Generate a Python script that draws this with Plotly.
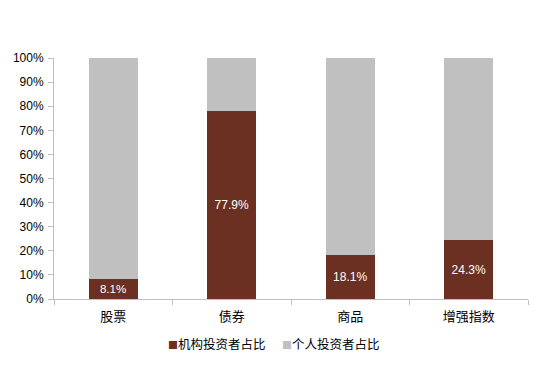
import plotly.graph_objects as go

categories = ["股票", "债券", "商品", "增强指数"]
institutional = [8.1, 77.9, 18.1, 24.3]
individual = [91.9, 22.1, 81.9, 75.7]
series_names = ["机构投资者占比", "个人投资者占比"]
series_colors = ["#6B3022", "#C0C0C0"]
tick_vals = [0, 10, 20, 30, 40, 50, 60, 70, 80, 90, 100]
tick_text = [f"{v}%" for v in tick_vals]

font_family = "Liberation Sans, Arial, Noto Sans CJK SC, sans-serif"
cjk_family = "Noto Sans CJK SC, Liberation Sans, sans-serif"

fig = go.Figure()
fig.add_trace(go.Bar(
    x=categories, y=institutional, name=series_names[0],
    marker=dict(color=series_colors[0], line=dict(width=0)),
    text=[f"{v}%" for v in institutional], textposition="inside",
    insidetextanchor="middle",
    textfont=dict(color="white", size=12, family=font_family),
))
fig.add_trace(go.Bar(
    x=categories, y=individual, name=series_names[1],
    marker=dict(color=series_colors[1], line=dict(width=0)),
    hoverinfo="skip",
))

legend_x = [0.237, 0.477]
for name, color, lx in zip(series_names, series_colors, legend_x):
    fig.add_annotation(
        xref="paper", yref="paper", x=lx, y=-0.183,
        xanchor="left", yanchor="middle", showarrow=False,
        text=f"<span style='color:{color};font-size:10px'>■</span>{name}",
        font=dict(family=cjk_family, size=12.5, color="black"),
    )

fig.update_layout(
    barmode="stack",
    bargap=0.59,
    width=552, height=367,
    margin=dict(l=46, r=32, t=50, b=76, autoexpand=False),
    plot_bgcolor="white", paper_bgcolor="white",
    font=dict(family=font_family, size=12, color="black"),
    showlegend=False,
    xaxis=dict(showline=True, linecolor="#BFBFBF", linewidth=1, automargin=False,
               ticks="outside", tickson="boundaries", ticklen=5, tickcolor="#BFBFBF",
               ticklabelstandoff=5,
               showgrid=False, tickfont=dict(size=13, family=cjk_family)),
    yaxis=dict(range=[0, 100], tickvals=tick_vals, ticktext=tick_text, automargin=False,
               showline=True, linecolor="#BFBFBF", linewidth=1,
               ticks="outside", ticklen=5, tickcolor="#BFBFBF",
               ticklabelstandoff=2,
               showgrid=False, zeroline=False, tickfont=dict(size=12)),
)

fig.write_html("out.html")
